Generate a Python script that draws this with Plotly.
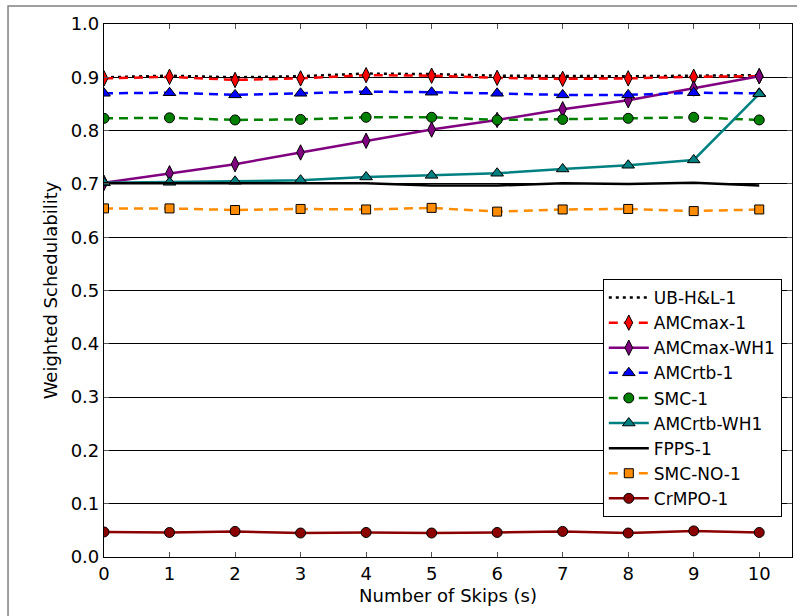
import plotly.graph_objects as go

skips = list(range(11))

ub_hl_1 = [0.900, 0.903, 0.900, 0.902, 0.907, 0.906, 0.903, 0.902, 0.902, 0.903, 0.904]
amcmax_1 = [0.898, 0.901, 0.895, 0.898, 0.904, 0.903, 0.899, 0.897, 0.898, 0.901, 0.902]
amcmax_wh1 = [0.702, 0.720, 0.737, 0.759, 0.781, 0.802, 0.820, 0.840, 0.857, 0.879, 0.902]
amcrtb_1 = [0.870, 0.871, 0.867, 0.870, 0.873, 0.872, 0.870, 0.867, 0.867, 0.871, 0.870]
smc_1 = [0.823, 0.824, 0.820, 0.821, 0.825, 0.825, 0.820, 0.821, 0.823, 0.825, 0.820]
amcrtb_wh1 = [0.702, 0.703, 0.705, 0.707, 0.713, 0.716, 0.720, 0.728, 0.735, 0.745, 0.869]
fpps_1 = [0.701, 0.701, 0.700, 0.700, 0.701, 0.697, 0.697, 0.701, 0.700, 0.702, 0.697]
smc_no_1 = [0.654, 0.654, 0.651, 0.653, 0.652, 0.655, 0.648, 0.652, 0.653, 0.649, 0.652]
crmpo_1 = [0.047, 0.046, 0.048, 0.045, 0.046, 0.045, 0.046, 0.048, 0.045, 0.049, 0.046]

series = [
    # name, values, colour, dash, marker symbol, marker size
    ("UB-H&L-1", ub_hl_1, "black", "dot", None, 0),
    ("AMCmax-1", amcmax_1, "#ff0000", "dash", "diamond-tall", 11),
    ("AMCmax-WH1", amcmax_wh1, "#800080", "solid", "diamond-tall", 11),
    ("AMCrtb-1", amcrtb_1, "#0000ff", "dash", "triangle-up", 11),
    ("SMC-1", smc_1, "#008000", "dash", "circle", 10),
    ("AMCrtb-WH1", amcrtb_wh1, "#008080", "solid", "triangle-up", 11),
    ("FPPS-1", fpps_1, "black", "solid", None, 0),
    ("SMC-NO-1", smc_no_1, "#ff8c00", "dash", "square", 9),
    ("CrMPO-1", crmpo_1, "#8b0000", "solid", "circle", 10),
]

fig = go.Figure()
for name, vals, color, dash, symbol, size in series:
    if symbol is None:
        fig.add_trace(go.Scatter(
            x=skips, y=vals, name=name, mode="lines",
            line=dict(color=color, width=2.5, dash="3px,4px" if dash == "dot" else dash),
        ))
    else:
        fig.add_trace(go.Scatter(
            x=skips, y=vals, name=name, mode="lines+markers",
            line=dict(color=color, width=2.5, dash="9px,6px" if dash == "dash" else dash),
            marker=dict(symbol=symbol, size=size, color=color,
                        line=dict(color="black", width=1)),
        ))

axis_font = dict(family="DejaVu Sans", size=18, color="black")

fig.update_xaxes(
    range=[0, 10.5], tickmode="array", tickvals=skips,
    ticktext=[str(s) for s in skips],
    showgrid=False, zeroline=False,
    showline=True, linecolor="black", linewidth=1.2, mirror="ticks",
    ticks="inside", ticklen=5, tickcolor="#555555", tickwidth=1,
    tickfont=axis_font,
    title=dict(text="Number of Skips (s)", font=axis_font, standoff=6),
)
fig.update_yaxes(
    range=[0, 1.0], tickmode="array",
    tickvals=[i / 10 for i in range(11)],
    ticktext=[f"{i / 10:.1f}" for i in range(11)],
    showgrid=True, gridcolor="black", gridwidth=1, zeroline=False,
    showline=True, linecolor="black", linewidth=1.2, mirror="ticks",
    ticks="inside", ticklen=5, tickcolor="#555555", tickwidth=1,
    tickfont=axis_font,
    title=dict(text="Weighted Schedulability", font=axis_font, standoff=8),
)

# outer figure frame
fig.add_shape(type="rect", xref="paper", yref="paper",
              x0=-0.1395, x1=1.2, y0=-0.3, y1=1.0338,
              line=dict(color="#808080", width=1.5), fillcolor="rgba(0,0,0,0)",
              layer="below")

fig.update_layout(
    width=797, height=616,
    margin=dict(l=104, r=5, t=24, b=59),
    paper_bgcolor="white", plot_bgcolor="white",
    font=dict(family="DejaVu Sans", size=18, color="black"),
    showlegend=True,
    legend=dict(
        x=0.725, y=0.5216, xanchor="left", yanchor="top",
        bgcolor="white", bordercolor="black", borderwidth=1,
        font=dict(family="DejaVu Sans", size=17, color="black"),
        tracegroupgap=0, itemwidth=40,
    ),
)

fig.write_html("out.html")
